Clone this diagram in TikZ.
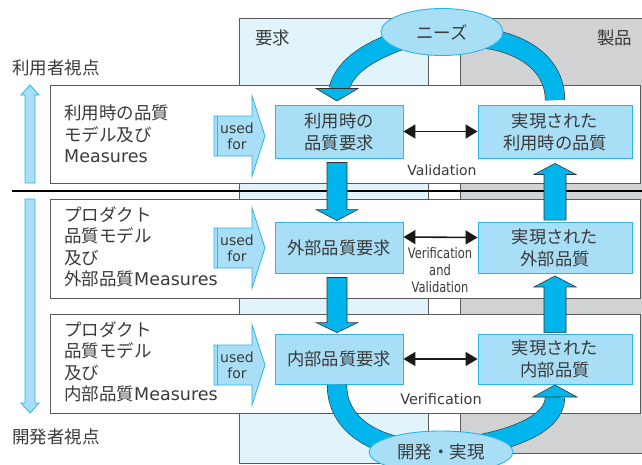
\documentclass[tikz,border=0pt]{standalone}
\usepackage{fontspec}
\setmainfont{Noto Sans CJK JP}
\newfontfamily\lat{DejaVu Sans}
\usepackage{graphicx}
\usetikzlibrary{shapes.geometric,arrows.meta,calc}
\definecolor{colblue}{HTML}{E1F3FB}
\definecolor{colgray}{HTML}{D1D2D4}
\definecolor{boxfill}{HTML}{A8DEF6}
\definecolor{boxline}{HTML}{2BB5E8}
\definecolor{fatblue}{HTML}{00B4EC}
\definecolor{outl}{HTML}{333333}
\definecolor{txt}{HTML}{3A3A3A}
\definecolor{framec}{HTML}{5A5A5A}
\newcommand\usedfor[2]{%
  \draw[light] (214,#2-20) -- (252,#2-20) -- (252,#2-40) -- (265,#2) -- (252,#2+40) -- (252,#2+20) -- (214,#2+20) -- cycle;
  \draw[boxline, line width=0.8pt] (217.5,#2-20) -- (217.5,#2+20);
  \node[small] (#1) at (237,#2) {used\\for};
}
\begin{document}
\begin{tikzpicture}[x=1pt,y=-1pt,
  colframe/.style={draw=framec, line width=0.8pt},
  rowbox/.style={draw=framec, fill=white, line width=0.8pt},
  qbox/.style={draw=boxline, fill=boxfill, line width=0.9pt, align=center, text=txt, font=\fontsize{17.3}{22}\selectfont, inner sep=0pt},
  lbl/.style={text=txt, inner sep=0pt, font=\fontsize{17.5}{21.5}\selectfont, align=left},
  small/.style={text=txt, inner sep=0pt, font=\lat\fontsize{14}{16}\selectfont, align=center},
  need/.style={ellipse, draw=boxline, fill=boxfill, line width=0.9pt, text=txt, font=\fontsize{17.5}{20}\selectfont, inner sep=0pt},
  fat/.style={draw=outl, fill=fatblue, line width=0.6pt, line join=miter},
  band/.style={draw=outl, line width=0.6pt, double=fatblue, double distance=19pt},
  light/.style={draw=boxline, fill=boxfill, line width=0.8pt},
  vv/.style={{Triangle[length=12pt,width=14pt]}-{Triangle[length=12pt,width=14pt]}, line width=1.6pt, draw=black!90},
]
\useasboundingbox (0,0) rectangle (642,464);
\clip (0,0) rectangle (642,464);
% columns
\fill[colblue] (239,18) rectangle (428,463);
\draw[colframe] (239,18) rectangle (428,463);
\fill[colgray] (460,18) rectangle (650,453);
\draw[colframe] (650,18) -- (460,18) -- (460,453) -- (650,453);
\draw[colframe] (428,18) -- (460,18);
\node[lbl, anchor=west] (colreq) at (255,38) {要求};
\node[lbl, anchor=west] (colprod) at (597,38) {製品};
% rows
\draw[rowbox] (50,85) rectangle (640,183);
\draw[rowbox] (50,199) rectangle (640,298);
\draw[rowbox] (50,314) rectangle (640,413);
\draw[line width=2pt, black] (12,191) -- (642,191);
% viewpoint labels and arrows
\node[lbl, anchor=west] (userview) at (12,68) {利用者視点};
\node[lbl, anchor=west] (devview) at (12,437) {開発者視点};
\draw[light] (25,183) -- (25,95) -- (21,95) -- (30,85) -- (39,95) -- (35,95) -- (35,183) -- cycle;
\draw[light] (25,199) -- (35,199) -- (35,403) -- (39,403) -- (30,413) -- (21,403) -- (25,403) -- cycle;
% left texts
\node[lbl, anchor=west] (m1) at (64,134) {利用時の品質\\モデル及び\\{\lat\fontsize{17.5}{21.5}\selectfont Measures}};
\node[lbl, anchor=west] (m2) at (64,247) {プロダクト\\品質モデル\\及び\\外部品質{\lat\fontsize{17.5}{21.5}\selectfont Measures}};
\node[lbl, anchor=west] (m3) at (64,362) {プロダクト\\品質モデル\\及び\\内部品質{\lat\fontsize{17.5}{21.5}\selectfont Measures}};
% used for
\usedfor{uf1}{136}
\usedfor{uf2}{248}
\usedfor{uf3}{365}
% quality boxes
\node[qbox, minimum width=128pt, minimum height=53pt] (reqU) at (339,131.5) {利用時の\\品質要求};
\node[qbox, minimum width=154pt, minimum height=53pt] (realU) at (555,131.5) {実現された\\利用時の品質};
\node[qbox, minimum width=128pt, minimum height=51pt] (reqE) at (339,247.5) {外部品質要求};
\node[qbox, minimum width=154pt, minimum height=51pt] (realE) at (555,248) {実現された\\外部品質};
\node[qbox, minimum width=128pt, minimum height=50pt] (reqI) at (339,359) {内部品質要求};
\node[qbox, minimum width=154pt, minimum height=50pt] (realI) at (555,359) {実現された\\内部品質};
% ellipses positions
\path (442,32) coordinate (needsc);
\path (441,452) coordinate (devc);
% curved bands
\coordinate (hTL) at (338.5,90);
\draw[band] ($(needsc)+(-30,4)$) .. controls (370,50) and (345,65) .. (hTL);
\draw[fat] (316,88.5) -- (358,88.5) -- (337,101) -- cycle;
\draw[band] ($(realU.north)+(0,-4.5)$) .. controls (555,60) and (515,38) .. ($(needsc)+(25,5)$);
\draw[band] ($(reqI.south)+(-2,0.5)$) .. controls (337,425) and (375,446) .. ($(devc)+(-25,-3)$);
\coordinate (hBR) at (555,397);
\draw[band] ($(devc)+(25,-5)$) .. controls (510,440) and (555,425) .. (hBR);
\draw[fat] (533,397) -- (577,397) -- (555,385) -- cycle;
% vertical fat arrows
\draw[fat] let \p1=(reqU.south), \p2=(reqE.north) in
  (\x1-12pt,\y1-4pt) -- (\x1+8pt,\y1-4pt) -- (\x1+8pt,\y2+12pt) -- (\x1+19pt,\y2+12pt) -- (\x1-2pt,\y2+1pt) -- (\x1-23pt,\y2+12pt) -- (\x1-12pt,\y2+12pt) -- cycle;
\draw[fat] let \p1=(reqE.south), \p2=(reqI.north) in
  (\x1-12pt,\y1-4pt) -- (\x1+8pt,\y1-4pt) -- (\x1+8pt,\y2+11pt) -- (\x1+19pt,\y2+11pt) -- (\x1-2pt,\y2+1pt) -- (\x1-23pt,\y2+11pt) -- (\x1-12pt,\y2+11pt) -- cycle;
\draw[fat] let \p1=(realE.north), \p2=(realU.south) in
  (\x1-11pt,\y1+2pt) -- (\x1+11pt,\y1+2pt) -- (\x1+11pt,\y2-16pt) -- (\x1+21pt,\y2-16pt) -- (\x1,\y2-5pt) -- (\x1-21pt,\y2-16pt) -- (\x1-11pt,\y2-16pt) -- cycle;
\draw[fat] let \p1=(realI.north), \p2=(realE.south) in
  (\x1-11pt,\y1+1pt) -- (\x1+11pt,\y1+1pt) -- (\x1+11pt,\y2-13pt) -- (\x1+21pt,\y2-13pt) -- (\x1,\y2-2pt) -- (\x1-21pt,\y2-13pt) -- (\x1-11pt,\y2-13pt) -- cycle;
% ellipses
\node[need, minimum width=122pt, minimum height=47pt] (needs) at (needsc) {ニーズ};
\node[need, minimum width=144pt, minimum height=42pt] (dev) at (devc) {開発・実現};
% double arrows
\draw[vv] (reqU.east) -- (realU.west);
\draw[vv] ([yshift=10.5pt]reqE.east) -- ([yshift=10.5pt]realE.west);
\draw[vv] (reqI.east) -- (realI.west);
% labels
\node[small] (val) at (442,170) {Validation};
\node[small, font=\lat\fontsize{14.5}{17}\selectfont] (vandv) at (440,270) {\scalebox{0.79}[1]{Verification}\\\scalebox{0.79}[1]{and}\\\scalebox{0.79}[1]{Validation}};
\node[small, font=\lat\fontsize{14.5}{16}\selectfont] (ver) at (441,399) {Verification};
\end{tikzpicture}
\end{document}
